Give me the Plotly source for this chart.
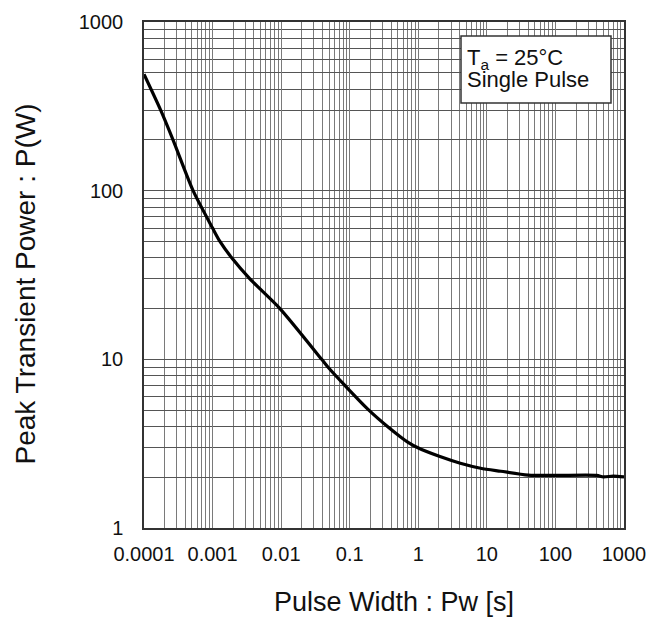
import plotly.graph_objects as go

# Curve data
pulse_width = [1e-4, 1.75e-4, 2.65e-4, 5.2e-4, 1e-3, 1.28e-3, 1.9e-3, 3.5e-3,
               9.6e-3, 0.039, 0.048, 0.085, 0.185, 0.37, 0.54, 0.72, 0.97, 2.07,
               4.1, 8.1, 16, 40, 100, 400, 500, 700, 1000]
peak_power = [490, 300, 200, 100, 60, 50, 40, 30,
              20, 10, 9, 7, 5.05, 3.94, 3.49, 3.21, 3.0, 2.65,
              2.42, 2.26, 2.17, 2.06, 2.05, 2.05, 2.01, 2.03, 2.01]

x_ticks = [1e-4, 1e-3, 1e-2, 1e-1, 1, 10, 100, 1000]
x_tick_labels = ["0.0001", "0.001", "0.01", "0.1", "1", "10", "100", "1000"]
y_ticks = [1, 10, 100, 1000]
y_tick_labels = ["1", "10", "100", "1000"]

x_title = "Pulse Width : Pw [s]"
y_title = "Peak Transient Power : P(W)"

x_minor = [m * d for d in x_ticks[:-1] for m in range(2, 10)]
y_minor = [m * d for d in y_ticks[:-1] for m in range(2, 10)]

FONT = "Liberation Sans, Arial, sans-serif"

fig = go.Figure()
fig.add_trace(go.Scatter(
    x=pulse_width, y=peak_power, mode="lines",
    line=dict(color="black", width=3.2, shape="spline", smoothing=0.7),
    showlegend=False, hoverinfo="skip",
))

grid_h = "#555555"
grid_v = "#7a7a7a"

fig.update_xaxes(
    type="log", range=[-4, 3], automargin=False,
    tickmode="array", tickvals=x_ticks, ticktext=x_tick_labels,
    showgrid=True, gridcolor=grid_v, gridwidth=1,
    minor=dict(tickmode="array", tickvals=x_minor, showgrid=True, gridcolor=grid_v, gridwidth=1, ticks=""),
    showline=True, linecolor="#333333", linewidth=1.5, mirror=True,
    ticks="", ticklabelstandoff=7,
    tickfont=dict(family=FONT, size=20, color="#111111"),
    zeroline=False,
)
fig.update_yaxes(
    type="log", range=[0, 3], automargin=False,
    tickmode="array", tickvals=y_ticks, ticktext=y_tick_labels,
    showgrid=True, gridcolor=grid_h, gridwidth=1,
    minor=dict(tickmode="array", tickvals=y_minor, showgrid=True, gridcolor=grid_h, gridwidth=1, ticks=""),
    showline=True, linecolor="#333333", linewidth=1.5, mirror=True,
    ticks="", ticklabelstandoff=15,
    tickfont=dict(family=FONT, size=20, color="#111111"),
    zeroline=False,
)

# Axis titles
fig.add_annotation(xref="paper", yref="paper", x=(394 - 144) / 480, y=1 - (618 - 22) / 506,
                   xanchor="center", yanchor="bottom", showarrow=False, borderpad=0,
                   text=x_title, font=dict(family=FONT, size=27, color="#111111"))
fig.add_annotation(xref="paper", yref="paper", x=(25 - 144) / 480, y=1 - (284.5 - 22) / 506,
                   xanchor="center", yanchor="middle", showarrow=False, textangle=-90,
                   text=y_title, font=dict(family=FONT, size=28, color="#111111"))

# Condition box
fig.add_shape(type="rect", xref="paper", yref="paper",
              x0=(461 - 144) / 480, x1=(611 - 144) / 480,
              y0=1 - (103 - 22) / 506, y1=1 - (36 - 22) / 506,
              line=dict(color="#333333", width=1.5), fillcolor="white", layer="above")
fig.add_annotation(xref="paper", yref="paper", x=(466 - 144) / 480, y=1 - (59 - 22) / 506,
                   xanchor="left", yanchor="middle", showarrow=False, borderpad=0,
                   text="T<sub>a</sub> = 25°C", font=dict(family=FONT, size=22, color="#111111"))
fig.add_annotation(xref="paper", yref="paper", x=(466 - 144) / 480, y=1 - (79 - 22) / 506,
                   xanchor="left", yanchor="middle", showarrow=False, borderpad=0,
                   text="Single Pulse", font=dict(family=FONT, size=22, color="#111111"))

fig.update_layout(
    width=662, height=619,
    margin=dict(l=144, r=38, t=22, b=91),
    paper_bgcolor="white", plot_bgcolor="white",
    font=dict(family=FONT),
)

fig.write_html("out.html", config={"displayModeBar": False},
               post_script="document.body.style.margin='0';")
